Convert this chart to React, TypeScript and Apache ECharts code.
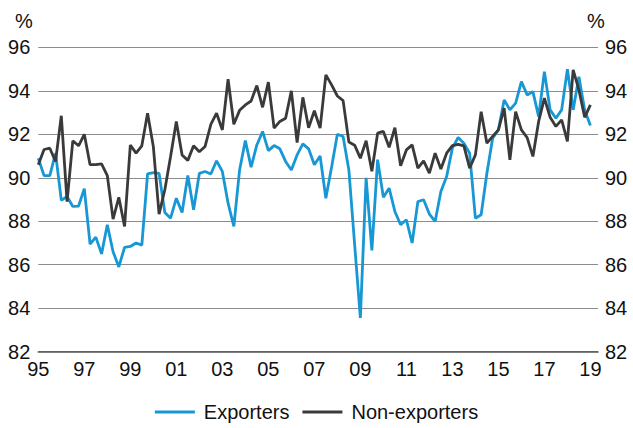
import React, { useEffect, useRef } from "react";
import * as echarts from "echarts";

const startYear = 1995;
const seriesNames = ["Exporters", "Non-exporters"];
const yTicks = { min: 82, max: 96, step: 2 };

const exporters = [
  90.9, 90.1, 90.1, 91.13, 88.96, 89.14, 88.68, 88.7, 89.5, 86.95,
  87.27, 86.5, 87.84, 86.6, 85.9, 86.8, 86.84, 87.0, 86.9, 90.18,
  90.24, 90.2, 88.4, 88.14, 89.06, 88.4, 90.1, 88.53, 90.2, 90.29,
  90.17, 90.78, 90.29, 88.83, 87.76, 90.36, 91.71, 90.49, 91.51, 92.13,
  91.25, 91.48, 91.33, 90.75, 90.36, 91.05, 91.56, 91.33, 90.6, 91.0,
  89.06, 90.5, 92.0, 91.9, 90.36, 86.95, 83.55, 90.0, 86.66, 90.83,
  89.1, 89.52, 88.45, 87.84, 88.07, 87.0, 88.9, 88.99, 88.33, 87.99,
  89.37, 90.06, 91.36, 91.85, 91.59, 91.13, 88.14, 88.3, 90.21, 91.82,
  92.2, 93.58, 93.12, 93.43, 94.42, 93.81, 93.96, 92.81, 94.88, 93.12,
  92.74, 93.12, 94.99, 93.12, 94.65, 93.12, 92.4,
];

const nonExporters = [
  90.6, 91.3, 91.36, 90.75, 92.85, 88.9, 91.7, 91.47, 92.0, 90.6,
  90.6, 90.64, 90.1, 88.1, 89.1, 87.76, 91.5, 91.13, 91.47, 92.97,
  91.44, 88.33, 89.45, 90.98, 92.59, 91.05, 90.8, 91.47, 91.2, 91.44,
  92.45, 92.97, 92.2, 94.53, 92.46, 93.1, 93.35, 93.53, 94.24, 93.24,
  94.4, 92.28, 92.59, 92.74, 94.0, 91.62, 93.7, 92.3, 93.08, 92.28,
  94.73, 94.27, 93.76, 93.55, 91.64, 91.5, 90.9, 91.7, 90.3, 92.05,
  92.13, 91.4, 92.3, 90.55, 91.28, 91.51, 90.44, 90.78, 90.21, 91.13,
  90.4, 91.13, 91.48, 91.54, 91.47, 90.44, 91.05, 93.04, 91.59, 91.9,
  92.2, 93.2, 90.82, 93.04, 92.2, 91.85, 90.98, 92.59, 93.66, 92.78,
  92.36, 92.66, 91.67, 94.96, 94.04, 92.78, 93.35,
];

const toPoints = (vals: number[]) => vals.map((v, i) => [i / 4, v]);

const FONT = "'Liberation Sans', Arial, Helvetica, sans-serif";
const BLUE = "#1797d4";
const DARK = "#3a3a3a";

export default function App() {
  const ref = useRef<HTMLDivElement>(null);
  useEffect(() => {
    if (!ref.current) return;
    const chart = echarts.init(ref.current, undefined, { renderer: "svg" });
    const yLabel = { fontSize: 20, color: "#111", fontFamily: FONT };
    chart.setOption({
      animation: false,
      backgroundColor: "#fff",
      textStyle: { fontFamily: FONT },
      grid: { left: 38.3, right: 35, top: 47.3, bottom: 76.3, containLabel: false },
      xAxis: {
        type: "value",
        min: 0,
        max: 24.33,
        interval: 2,
        axisLine: { show: true, lineStyle: { color: "#555", width: 1.6 } },
        axisTick: { show: false },
        splitLine: { show: false },
        axisLabel: {
          fontSize: 20,
          color: "#111",
          fontFamily: FONT,
          margin: 7,
          formatter: (v: number) => {
            if (Math.abs(v - Math.round(v)) > 1e-6 || Math.round(v) % 2 !== 0) return "";
            return String((startYear + Math.round(v)) % 100).padStart(2, "0");
          },
        },
      },
      yAxis: [
        {
          type: "value",
          position: "left",
          min: yTicks.min,
          max: yTicks.max,
          interval: yTicks.step,
          axisLine: { show: false },
          axisTick: { show: false },
          splitLine: { show: true, lineStyle: { color: "#8c8c8c", width: 1.2 } },
          axisLabel: { ...yLabel, margin: 8 },
        },
        {
          type: "value",
          position: "right",
          min: yTicks.min,
          max: yTicks.max,
          interval: yTicks.step,
          axisLine: { show: false },
          axisTick: { show: false },
          splitLine: { show: false },
          axisLabel: { ...yLabel, margin: 7 },
        },
      ],
      legend: {
        data: seriesNames,
        left: "center",
        top: 399,
        padding: [3, 5, 3, 5],
        icon: "rect",
        itemWidth: 40,
        itemHeight: 3,
        itemGap: 13,
        textStyle: { fontSize: 20, color: "#111", fontFamily: FONT, padding: [0, 0, 0, 4] },
      },
      graphic: [
        {
          type: "text",
          x: 24,
          y: 21,
          style: { text: "%", fontSize: 20, fill: "#111", fontFamily: FONT, align: "center", verticalAlign: "middle" },
        },
        {
          type: "text",
          x: 596,
          y: 21,
          style: { text: "%", fontSize: 20, fill: "#111", fontFamily: FONT, align: "center", verticalAlign: "middle" },
        },
      ],
      series: [
        {
          name: seriesNames[0],
          type: "line",
          data: toPoints(exporters),
          showSymbol: false,
          symbol: "none",
          lineStyle: { color: BLUE, width: 2.8 },
          itemStyle: { color: BLUE },
        },
        {
          name: seriesNames[1],
          type: "line",
          data: toPoints(nonExporters),
          showSymbol: false,
          symbol: "none",
          lineStyle: { color: DARK, width: 2.8 },
          itemStyle: { color: DARK },
        },
      ],
    });
    return () => chart.dispose();
  }, []);
  return (
    <div
      ref={ref}
      style={{ position: "fixed", left: 0, top: 0, width: 633, height: 428, background: "#fff" }}
    />
  );
}
